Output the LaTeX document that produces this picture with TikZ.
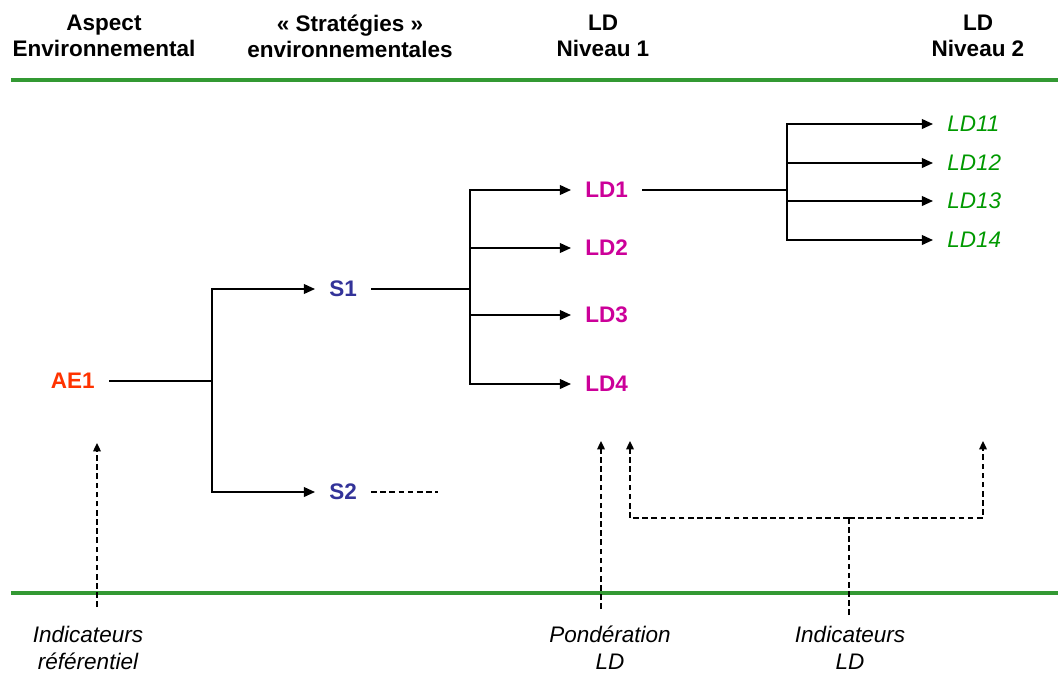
\documentclass[tikz,border=0pt]{standalone}
\usepackage{fontspec}
\setmainfont{Liberation Sans}
\usepackage{xcolor}
\usetikzlibrary{arrows.meta,positioning}

\definecolor{aered}{RGB}{255,51,0}
\definecolor{stratblue}{RGB}{51,51,153}
\definecolor{ldmagenta}{RGB}{204,0,153}
\definecolor{ldgreen}{RGB}{0,153,0}
\definecolor{rulegreen}{RGB}{51,153,51}

\begin{document}
\begin{tikzpicture}[
  x=0.025cm, y=-0.025cm,
  head/.style={font=\fontsize{16}{18.5}\selectfont\bfseries, align=center, inner sep=0pt},
  lbl/.style={font=\fontsize{16}{18.5}\selectfont\bfseries, inner xsep=10pt, inner ysep=0pt},
  sub/.style={font=\fontsize{16}{18.5}\selectfont\itshape, inner xsep=10pt, inner ysep=0pt, text=ldgreen},
  note/.style={font=\fontsize{16}{19}\selectfont\itshape, align=center, inner sep=0pt},
  link/.style={line width=1.2pt},
  arr/.style={link, -{Triangle[length=8pt,width=7pt]}},
  dasharr/.style={line width=1pt, dash pattern=on 4pt off 2.5pt, -{Triangle[length=6pt,width=5.5pt]}},
  dashline/.style={line width=1pt, dash pattern=on 4pt off 2.5pt},
  rule/.style={line width=3.5pt, draw=rulegreen}
]
  \useasboundingbox (0,0) rectangle (1058,673);

  % column titles and rules
  \node[head] (hae) at (104,36) {Aspect\\Environnemental};
  \node[head] (hstrat) at (350,36) {« Stratégies »\\environnementales};
  \node[head] (hld1) at (603,36) {LD\\Niveau 1};
  \node[head] (hld2) at (978,36) {LD\\Niveau 2};
  \draw[rule] (11,80) -- (1058,80);
  \draw[rule] (11,593) -- (1058,593);

  % tree
  \node[lbl, text=aered, anchor=east] (ae1) at (109,381) {AE1};
  \node[lbl, text=stratblue, anchor=west] (s1) at (315,289) {S1};
  \node[lbl, text=stratblue, anchor=west] (s2) at (315,492) {S2};
  \node[lbl, text=ldmagenta, anchor=west] (ld1) at (571,190) {LD1};
  \node[lbl, text=ldmagenta, anchor=west] (ld2) at (571,248) {LD2};
  \node[lbl, text=ldmagenta, anchor=west] (ld3) at (571,315) {LD3};
  \node[lbl, text=ldmagenta, anchor=west] (ld4) at (571,384) {LD4};
  \node[sub, anchor=west] (ld11) at (933,124) {LD11};
  \node[sub, anchor=west] (ld12) at (933,163) {LD12};
  \node[sub, anchor=west] (ld13) at (933,201) {LD13};
  \node[sub, anchor=west] (ld14) at (933,240) {LD14};

  \coordinate (forkae) at (212,381);
  \coordinate (forks) at (470,289);
  \coordinate (forkld) at (787,190);
  \coordinate (s2end) at (438,492);

  \draw[link] (ae1.east) -- (forkae);
  \draw[arr] (forkae) |- (s1);
  \draw[arr] (forkae) |- (s2);
  \draw[link] (s1.east) -- (forks);
  \foreach \n in {ld1,ld2,ld3,ld4}
    \draw[arr] (forks) |- (\n);
  \draw[dashline] (s2.east) -- (s2end);
  \draw[link] (ld1.east) -- (forkld);
  \foreach \n in {ld11,ld12,ld13,ld14}
    \draw[arr] (forkld) |- (\n);

  % indicators below
  \node[note] (indref) at (88,648) {Indicateurs\\référentiel};
  \node[note] (pond) at (610,648) {Pondération\\LD};
  \node[note] (indld) at (850,648) {Indicateurs\\LD};

  \coordinate (refbot) at (97,607);
  \coordinate (reftop) at (97,443);
  \coordinate (pondbot) at (601,609);
  \coordinate (pondtop) at (601,441);
  \coordinate (indbot) at (849,615);
  \coordinate (indmid) at (849,518);
  \coordinate (indltop) at (630,441);
  \coordinate (indrtop) at (983,441);

  \draw[dasharr] (refbot) -- (reftop);
  \draw[dasharr] (pondbot) -- (pondtop);
  \draw[dashline] (indbot) -- (indmid);
  \draw[dasharr] (indmid) -| (indltop);
  \draw[dasharr] (indmid) -| (indrtop);
\end{tikzpicture}
\end{document}
